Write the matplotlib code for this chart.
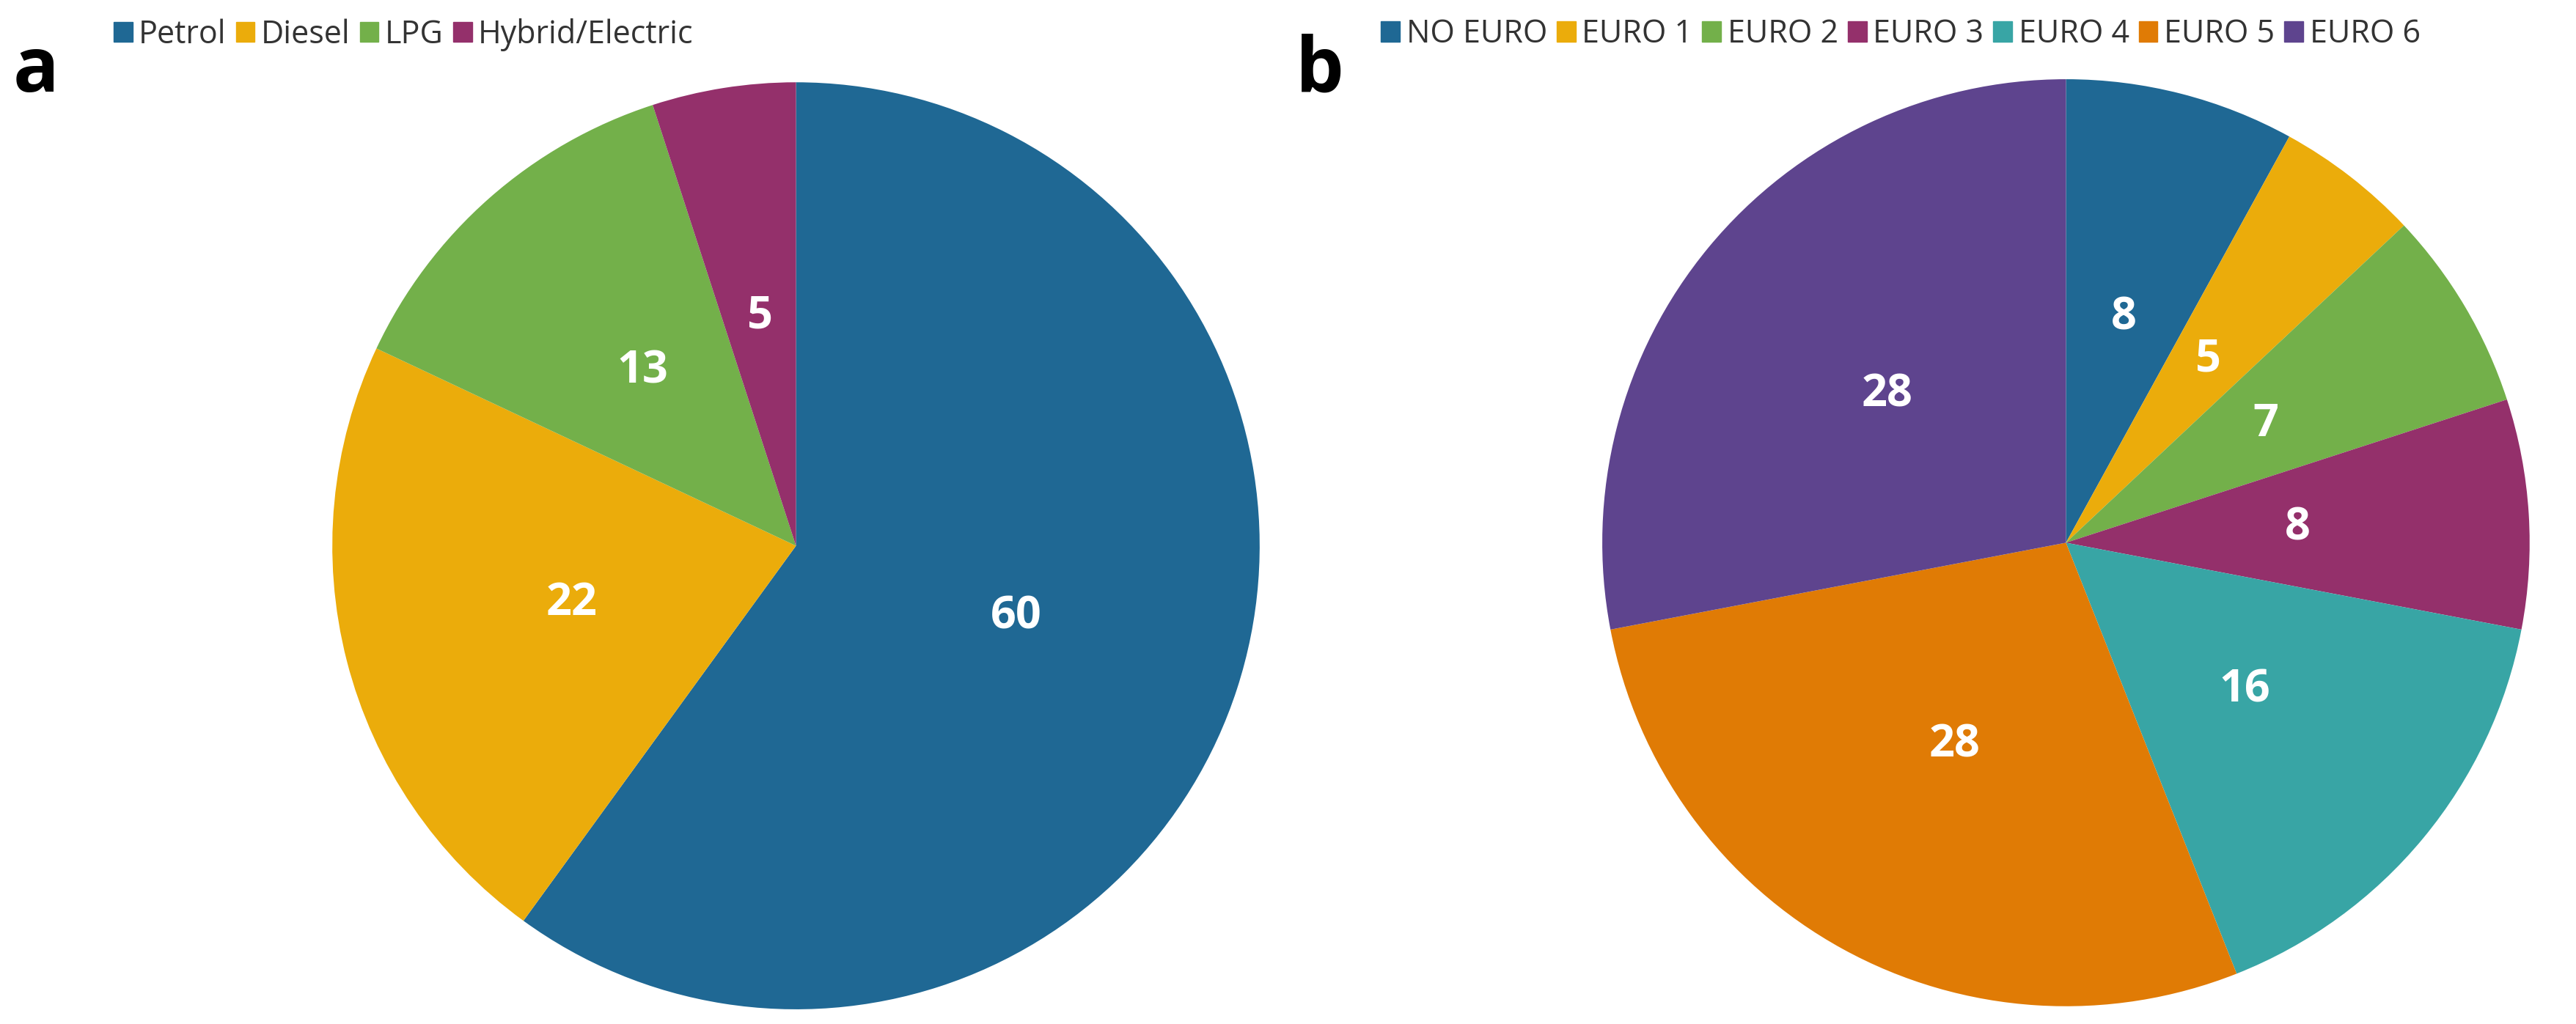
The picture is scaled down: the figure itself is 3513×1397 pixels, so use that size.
import matplotlib
matplotlib.use("Agg")
import matplotlib.pyplot as plt
from matplotlib.patches import Patch

fuel_labels = ["Petrol", "Diesel", "LPG", "Hybrid/Electric"]
fuel_values = [60, 22, 13, 5]
fuel_colors = ["#1f6894", "#ebac0b", "#73b04a", "#94306b"]

euro_labels = ["NO EURO", "EURO 1", "EURO 2", "EURO 3", "EURO 4", "EURO 5", "EURO 6"]
euro_values = [8, 5, 7, 8, 16, 28, 28]
euro_colors = ["#1f6894", "#ebac0b", "#73b04a", "#94306b", "#38a5a5", "#e07b05", "#5e448e"]

plt.rcParams['font.family'] = ['Open Sans', 'DejaVu Sans']
fig = plt.figure(figsize=(35.13, 13.97), dpi=100)

def draw(ax, vals, cols):
    wedges, texts, autotexts = ax.pie(vals, colors=cols, startangle=90, counterclock=False,
        autopct=lambda p: f"{p*sum(vals)/100:.0f}", pctdistance=0.5,
        textprops=dict(color="white", fontsize=44, fontweight="bold"))
    ax.set_xlim(-1, 1)
    ax.set_ylim(-1, 1)
    ax.set_aspect("equal")

ax1 = fig.add_axes([0.309-0.18, 0.467-0.453, 0.36, 0.906])
draw(ax1, fuel_values, fuel_colors)
ax2 = fig.add_axes([0.802-0.18, 0.47-0.453, 0.36, 0.906])
draw(ax2, euro_values, euro_colors)

def leg(labels, cols, x):
    fig.legend([Patch(color=c) for c in cols], labels, loc="upper left",
               bbox_to_anchor=(x, 1.01), ncol=len(labels), frameon=False,
               fontsize=31, handlelength=0.6, handleheight=0.6, handletextpad=0.2,
               columnspacing=0.3, labelcolor="#333333")

leg(fuel_labels, fuel_colors, 0.033)
leg(euro_labels, euro_colors, 0.525)

fig.text(0.005, 0.93, "a", fontsize=75, fontweight="bold", va="center")
fig.text(0.503, 0.93, "b", fontsize=75, fontweight="bold", va="center")

fig.savefig("out.png", dpi=100)
